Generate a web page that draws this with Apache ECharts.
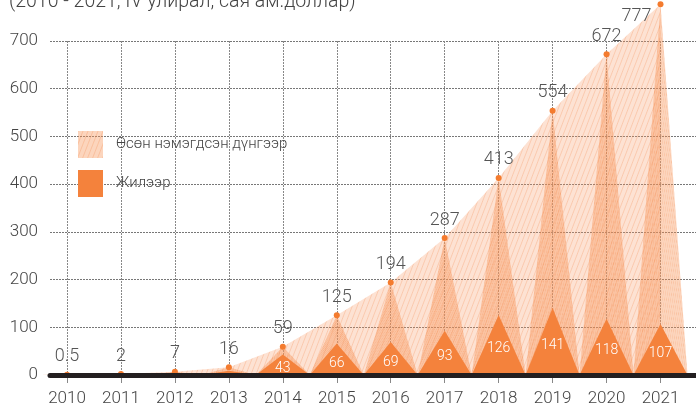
<!DOCTYPE html>
<html>
<head>
<meta charset="utf-8">
<script src="https://cdn.jsdelivr.net/npm/echarts@6/dist/echarts.min.js"></script>
<style>html,body{margin:0;padding:0;background:#fff}#c{width:696px;height:410px}</style>
</head>
<body>
<div id="c"></div>
<script>
const years = ['2010','2011','2012','2013','2014','2015','2016','2017','2018','2019','2020','2021'];
const cumulative = [0.5, 2, 7, 16, 59, 125, 194, 287, 413, 554, 672, 777];
const annual = [0.5, 2, 5, 9, 43, 66, 69, 93, 126, 141, 118, 107];
const annualLabels = ['', '', '', '', '43', '66', '69', '93', '126', '141', '118', '107'];
const yTicks = [0, 100, 200, 300, 400, 500, 600, 700];
const nameCum = 'Өсөн нэмэгдсэн дүнгээр';
const nameAnn = 'Жилээр';

function hatch(base) {
  const w = 5, h = 13;
  const c = document.createElement('canvas');
  c.width = w; c.height = h;
  const ctx = c.getContext('2d');
  ctx.fillStyle = base;
  ctx.fillRect(0, 0, w, h);
  ctx.strokeStyle = 'rgba(236,112,45,0.22)';
  ctx.lineWidth = 1;
  for (const o of [-w, 0, w]) {
    ctx.beginPath();
    ctx.moveTo(o, h);
    ctx.lineTo(o + w, 0);
    ctx.stroke();
  }
  return { image: c, repeat: 'repeat' };
}

const font = 'Roboto';
const chart = echarts.init(document.getElementById('c'), null, { renderer: 'canvas' });
const lastIdx = cumulative.length - 1;

chart.setOption({
  animation: false,
  textStyle: { fontFamily: font },
  title: {
    text: '(2010 - 2021, IV улирал, сая ам.доллар)',
    left: 4, top: -13,
    textStyle: { fontFamily: font, fontWeight: 300, fontSize: 19.5, color: '#444' }
  },
  legend: {
    orient: 'vertical', left: 78, top: 131,
    itemWidth: 25, itemHeight: 27, itemGap: 12, padding: 0,
    icon: 'rect',
    data: [nameCum, nameAnn],
    textStyle: { fontFamily: font, fontWeight: 300, fontSize: 15, color: '#444', padding: [2, 0, 0, 8] }
  },
  grid: [
    { left: 50, right: 0, top: 41, bottom: 35 },
    { left: 67, right: 35.5, top: 41, bottom: 35 }
  ],
  xAxis: [
    {
      gridIndex: 0, type: 'category', data: years, z: 10, offset: 2,
      axisLine: { show: true, lineStyle: { color: '#231f20', width: 5 } },
      axisTick: { show: false }, axisLabel: { show: false }, splitLine: { show: false }
    },
    {
      gridIndex: 1, type: 'category', data: years, boundaryGap: false,
      axisLine: { show: false },
      axisTick: { show: true, length: 8, interval: 0, lineStyle: { color: '#888', width: 1 } },
      axisLabel: { interval: 0, margin: 15, fontSize: 17, fontWeight: 300, color: '#444', fontFamily: font },
      splitLine: { show: true, interval: 0, lineStyle: { color: '#888', width: 1, type: [2, 1] } }
    }
  ],
  yAxis: [
    {
      gridIndex: 0, type: 'value', min: 0, max: 700, interval: 100,
      axisLine: { show: false }, axisTick: { show: false },
      axisLabel: { margin: 12, fontSize: 17, fontWeight: 300, color: '#444', fontFamily: font,
        formatter: v => yTicks.includes(v) ? String(v) : '' },
      splitLine: { show: true, lineStyle: { color: '#777', width: 1, type: [2, 1] } }
    },
    {
      gridIndex: 1, type: 'value', min: 0, max: 700, interval: 100,
      axisLine: { show: false }, axisTick: { show: false }, axisLabel: { show: false },
      splitLine: { show: false }
    }
  ],
  series: [
    {
      type: 'line', xAxisIndex: 1, yAxisIndex: 1, data: cumulative, clip: false,
      symbol: 'none', lineStyle: { width: 0 }, z: 1, silent: true,
      areaStyle: { color: hatch('rgba(250,160,110,0.3)'), opacity: 1 }
    },
    {
      name: nameCum, type: 'pictorialBar', xAxisIndex: 1, yAxisIndex: 1, data: cumulative,
      symbol: 'triangle', symbolSize: ['100%', '100%'], barCategoryGap: '0%', barGap: '-100%',
      itemStyle: { color: hatch('rgba(247,150,90,0.4)') }, z: 2
    },
    {
      name: nameAnn, type: 'pictorialBar', xAxisIndex: 1, yAxisIndex: 1, data: annual,
      symbol: 'triangle', symbolSize: ['100%', '100%'], barCategoryGap: '0%', barGap: '-100%',
      itemStyle: { color: '#f4823c' }, z: 3,
      label: {
        show: true, position: 'inside', offset: [0, 4], color: '#fff', fontSize: 14, fontWeight: 300,
        fontFamily: font, formatter: p => annualLabels[p.dataIndex]
      }
    },
    {
      type: 'line', xAxisIndex: 1, yAxisIndex: 1, clip: false, z: 4,
      data: cumulative.map((v, i) => i === lastIdx
        ? { value: v, label: { position: 'left', distance: 6, offset: [0, 12] } }
        : v),
      symbol: 'circle', symbolSize: 6, showSymbol: true,
      itemStyle: { color: '#f47b2e' },
      lineStyle: { width: 0, opacity: 0 },
      label: { show: true, position: 'top', distance: 6, color: '#555', fontSize: 18, fontWeight: 300, fontFamily: font }
    }
  ]
});
</script>
</body>
</html>
